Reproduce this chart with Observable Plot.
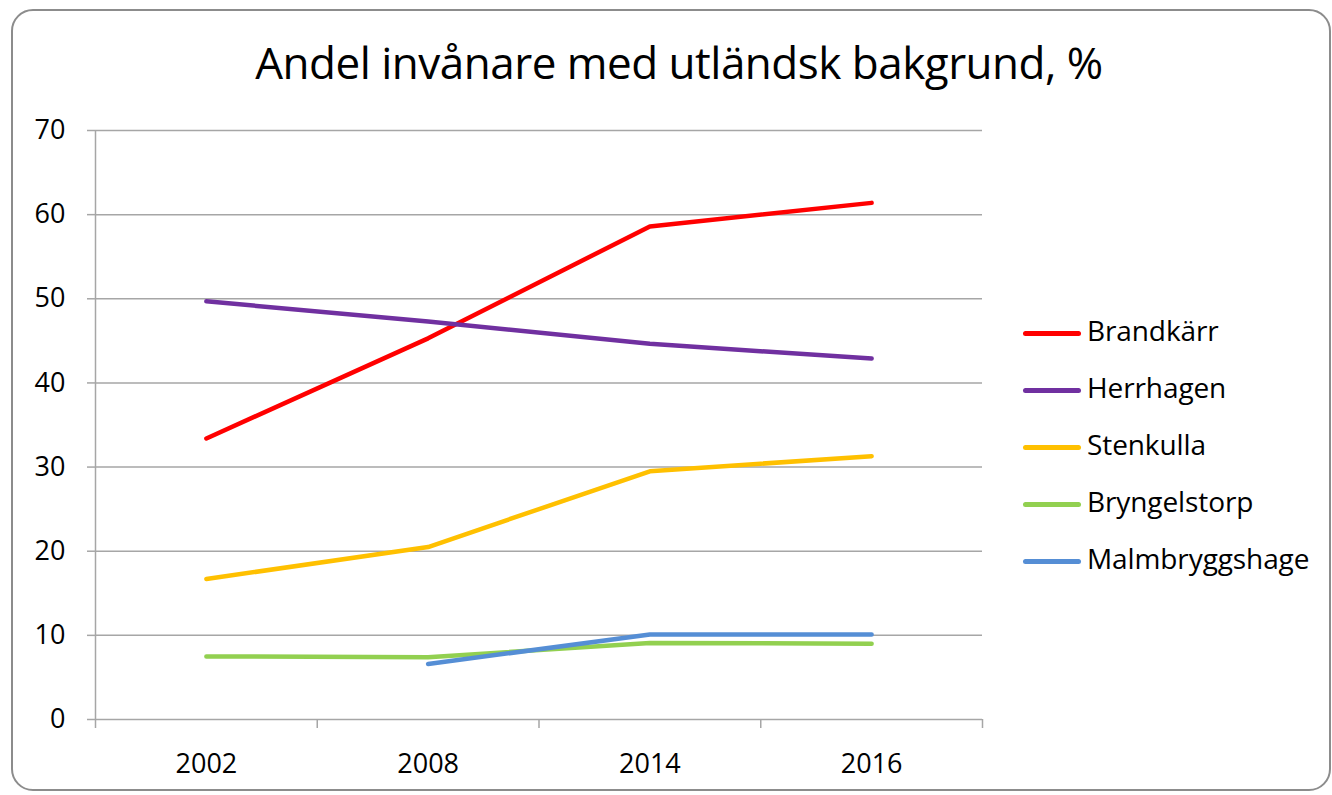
<!DOCTYPE html>
<html>
<head>
<meta charset="utf-8">
<script src="https://cdn.jsdelivr.net/npm/d3@7"></script>
<script src="https://cdn.jsdelivr.net/npm/@observablehq/plot@0.6"></script>
<style>
  html, body { margin: 0; padding: 0; background: #fff; }
  #wrap { position: relative; width: 1332px; height: 795px; overflow: hidden; font-family: "Open Sans", sans-serif; }
  #frame { position: absolute; left: 11px; top: 9px; width: 1320px; height: 782px; border: 2px solid #8c8c8c; border-radius: 22px; box-sizing: border-box; }
  #title { position: absolute; left: 0; width: 1358px; top: 32px; text-align: center; font-size: 44px; color: #000; letter-spacing: -0.5px; white-space: nowrap; }
  #chart { position: absolute; left: 0; top: 0; }
  #legend { position: absolute; left: 1023px; top: 0; }
  .item { position: absolute; left: 0; white-space: nowrap; font-size: 28px; color: #000; }
  .item .sw { position: absolute; left: 0; width: 58px; height: 5px; border-radius: 3px; }
  .item span.lbl { position: absolute; left: 64px; top: -20px; letter-spacing: -0.1px; }
</style>
</head>
<body>
<div id="wrap">
  <div id="frame"></div>
  <div id="title">Andel invånare med utländsk bakgrund, %</div>
  <div id="chart"></div>
  <div id="legend"></div>
</div>
<script>
const years = ["2002", "2008", "2014", "2016"];
const seriesNames = ["Brandkärr", "Herrhagen", "Stenkulla", "Bryngelstorp", "Malmbryggshage"];
const seriesColors = ["#ff0000", "#7030a0", "#ffc000", "#92d050", "#558ed5"];
const brandkarr = [33.4, 45.3, 58.6, 61.4];
const herrhagen = [49.7, 47.3, 44.65, 42.9];
const stenkulla = [16.7, 20.5, 29.5, 31.3];
const bryngelstorp = [7.5, 7.4, 9.1, 9.0];
const malmbryggshage = [null, 6.6, 10.1, 10.1];
const yTicks = [0, 10, 20, 30, 40, 50, 60, 70];

const seriesValues = [brandkarr, herrhagen, stenkulla, bryngelstorp, malmbryggshage];
const data = [];
seriesNames.forEach((name, s) => {
  seriesValues[s].forEach((v, i) => {
    if (v != null) data.push({name, i, v});
  });
});

const gray = "#a6a6a6";
const boundaries = d3.range(years.length + 1).map(k => k - 0.5);

const chart = Plot.plot({
  width: 1332,
  height: 795,
  marginLeft: 95,
  marginRight: 350,
  marginTop: 130,
  marginBottom: 76,
  style: {fontFamily: "Open Sans, sans-serif", fontSize: "27px", color: "#000", background: "transparent"},
  x: {type: "linear", domain: [-0.5, years.length - 0.5]},
  y: {domain: [0, 70]},
  color: {domain: seriesNames, range: seriesColors},
  marks: [
    Plot.gridY(yTicks, {stroke: gray, strokeOpacity: 1, strokeWidth: 1.5}),
    Plot.ruleX([-0.5], {y1: 0, y2: 70, stroke: gray, strokeWidth: 1.5}),
    Plot.axisY(yTicks, {tickSize: 8, stroke: gray, strokeWidth: 1.5, tickPadding: 22, label: null, fill: "#000", fontSize: 27}),
    Plot.axisX(boundaries, {tickSize: 9, stroke: gray, strokeWidth: 1.5, tickFormat: () => "", label: null}),
    Plot.axisX(d3.range(years.length), {tickSize: 0, tickPadding: 34, tickFormat: i => years[i], label: null, fill: "#000", fontSize: 27}),
    Plot.line(data, {x: "i", y: "v", z: "name", stroke: "name", strokeWidth: 4.5, strokeLinecap: "round", strokeLinejoin: "round"})
  ]
});
document.getElementById("chart").appendChild(chart);

const legend = document.getElementById("legend");
seriesNames.forEach((name, k) => {
  const item = document.createElement("div");
  item.className = "item";
  item.style.top = (331 + k * 57) + "px";
  const sw = document.createElement("div");
  sw.className = "sw";
  sw.style.background = seriesColors[k];
  const lbl = document.createElement("span");
  lbl.className = "lbl";
  lbl.textContent = name;
  item.appendChild(sw);
  item.appendChild(lbl);
  legend.appendChild(item);
});
</script>
</body>
</html>
